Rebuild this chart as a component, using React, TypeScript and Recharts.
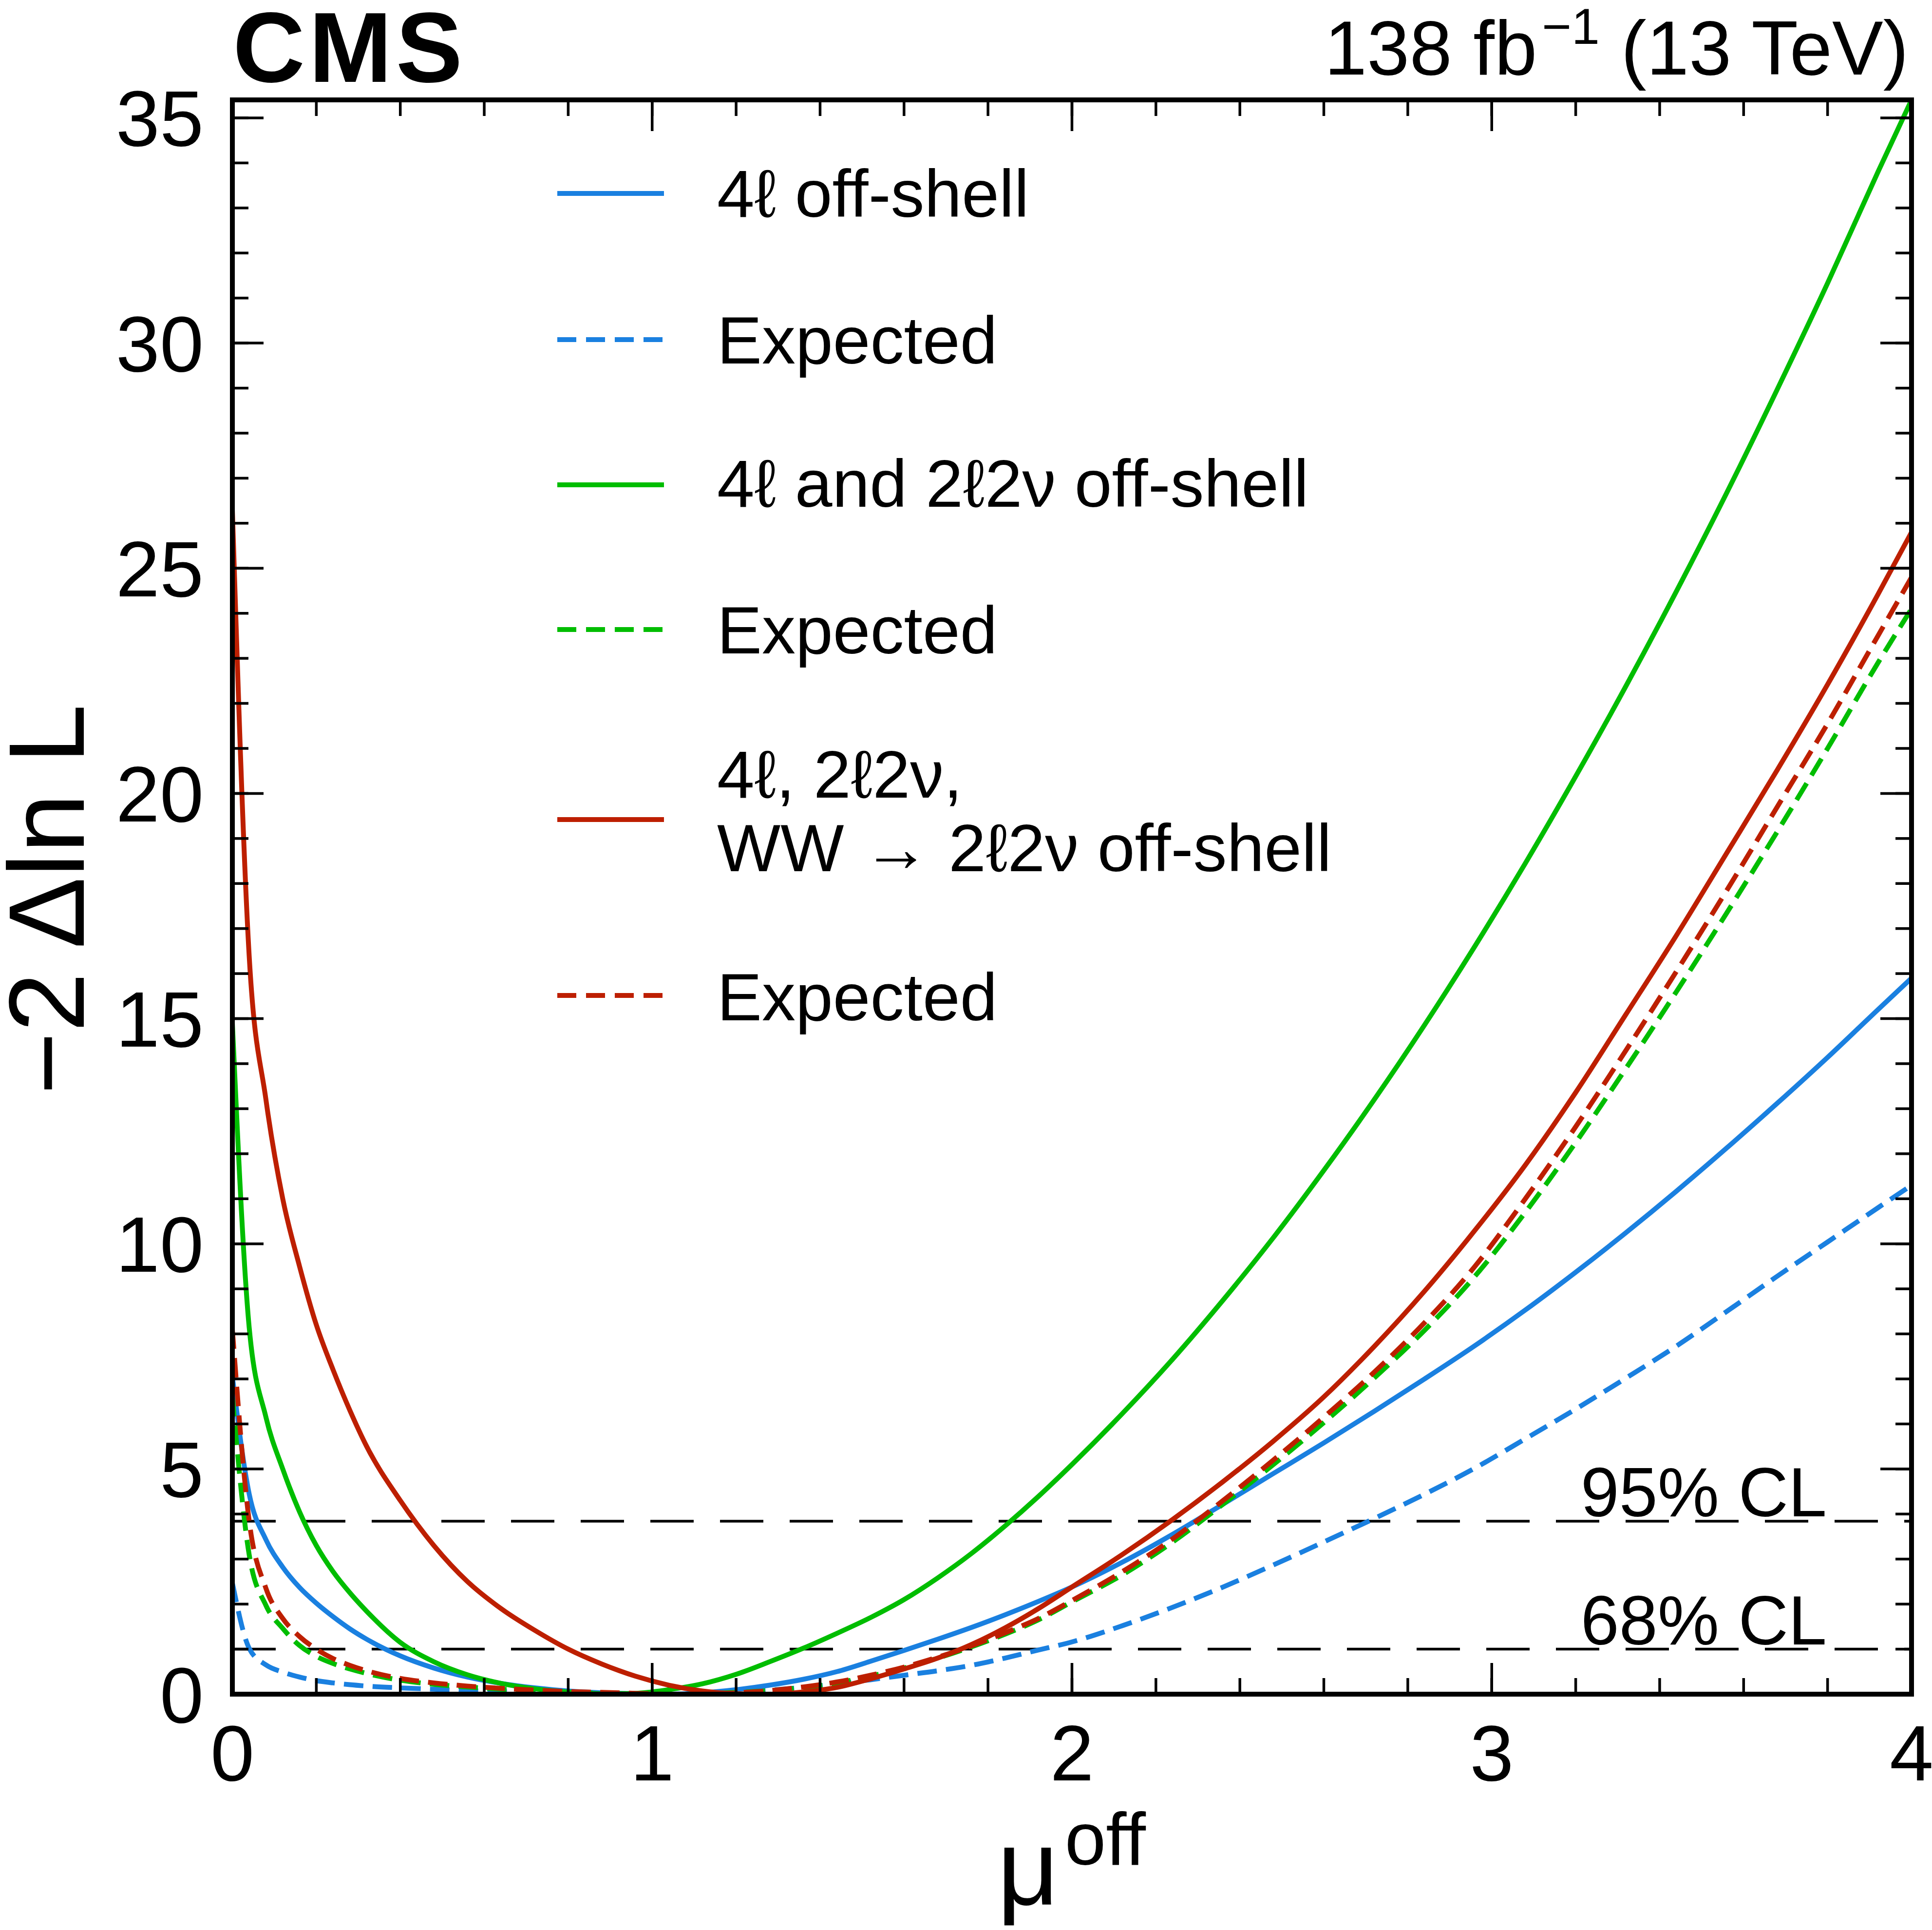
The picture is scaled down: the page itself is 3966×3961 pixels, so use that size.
import React from 'react';
import { LineChart, Line, XAxis, YAxis, ReferenceLine } from 'recharts';

const FONT = '"Liberation Sans", Arimo, Arial, Helvetica, sans-serif';
const W = 3966;
const H = 3961;

const BLUE = '#1a80e0';
const GREEN = '#00bd00';
const RED = '#bd1f00';

// mu^off grid
const mu = [
  0, 0.04, 0.08, 0.12, 0.16, 0.2, 0.24, 0.28, 0.32, 0.4, 0.48, 0.56, 0.64, 0.72, 0.8, 0.88, 0.96,
  1.04, 1.12, 1.2, 1.28, 1.36, 1.44, 1.52, 1.6, 1.68, 1.76, 1.84, 1.92, 2.0,
  2.12, 2.24, 2.36, 2.48, 2.6, 2.72, 2.84, 2.96, 3.08, 3.2, 3.32, 3.44, 3.56, 3.68, 3.8, 3.92, 4.0,
];

// 4l off-shell
const obs4l = [
  7.06, 4.45, 3.43, 2.82, 2.37, 2.02, 1.72, 1.45, 1.22, 0.85, 0.58, 0.38, 0.24, 0.14, 0.07, 0.03, 0.01,
  0.0, 0.03, 0.1, 0.2, 0.33, 0.5, 0.73, 0.97, 1.22, 1.48, 1.76, 2.06, 2.38,
  2.93, 3.55, 4.22, 4.9, 5.58, 6.28, 7.0, 7.74, 8.53, 9.37, 10.25, 11.17, 12.13, 13.12, 14.14, 15.2, 15.9,
];
const exp4l = [
  2.47, 1.02, 0.65, 0.49, 0.38, 0.3, 0.25, 0.21, 0.18, 0.14, 0.11, 0.08, 0.06, 0.04, 0.02, 0.01, 0.0,
  0.0, 0.02, 0.05, 0.09, 0.15, 0.23, 0.32, 0.42, 0.52, 0.64, 0.8, 0.98, 1.16,
  1.52, 1.93, 2.38, 2.87, 3.38, 3.9, 4.44, 5.02, 5.67, 6.33, 7.02, 7.73, 8.5, 9.28, 10.04, 10.8, 11.3,
];

// 4l and 2l2nu off-shell
const obs2ch = [
  14.9, 8.15, 6.15, 5.0, 4.05, 3.3, 2.72, 2.25, 1.84, 1.15, 0.72, 0.43, 0.24, 0.12, 0.05, 0.01, 0.02,
  0.1, 0.23, 0.44, 0.72, 1.02, 1.35, 1.7, 2.1, 2.58, 3.12, 3.73, 4.39, 5.1,
  6.23, 7.44, 8.75, 10.14, 11.63, 13.2, 14.86, 16.61, 18.45, 20.38, 22.39, 24.49, 26.68, 28.97, 31.33, 33.8, 35.4,
];
const exp2ch = [
  6.6, 3.1, 1.97, 1.46, 1.08, 0.84, 0.68, 0.56, 0.46, 0.31, 0.22, 0.16, 0.11, 0.07, 0.04, 0.02, 0.0,
  0.0, 0.01, 0.04, 0.08, 0.15, 0.25, 0.4, 0.58, 0.8, 1.05, 1.33, 1.65, 2.05,
  2.65, 3.38, 4.22, 5.1, 6.03, 7.02, 8.08, 9.28, 10.7, 12.25, 13.9, 15.6, 17.35, 19.15, 21.0, 22.9, 24.1,
];

// 4l, 2l2nu, WW -> 2l2nu off-shell
const obsAll = [
  26.3, 16.4, 13.2, 11.0, 9.5, 8.2, 7.2, 6.3, 5.5, 4.3, 3.3, 2.5, 1.9, 1.42, 1.0, 0.67, 0.4,
  0.2, 0.07, 0.01, 0.0, 0.05, 0.15, 0.34, 0.56, 0.8, 1.1, 1.47, 1.9, 2.38,
  3.1, 3.88, 4.72, 5.62, 6.6, 7.72, 8.95, 10.3, 11.75, 13.36, 15.1, 16.85, 18.68, 20.52, 22.42, 24.42, 25.8,
];
const expAll = [
  8.1, 3.85, 2.35, 1.68, 1.28, 1.0, 0.79, 0.64, 0.52, 0.35, 0.25, 0.18, 0.13, 0.09, 0.06, 0.04, 0.02,
  0.0, 0.0, 0.03, 0.08, 0.16, 0.27, 0.42, 0.6, 0.82, 1.07, 1.36, 1.68, 2.08,
  2.72, 3.45, 4.3, 5.2, 6.15, 7.15, 8.25, 9.5, 11.0, 12.6, 14.3, 16.05, 17.85, 19.7, 21.55, 23.5, 24.8,
];

const seriesKeys = ['obs4l', 'exp4l', 'obs2ch', 'exp2ch', 'obsAll', 'expAll'];
const seriesValues = [obs4l, exp4l, obs2ch, exp2ch, obsAll, expAll];
const seriesColors = [BLUE, BLUE, GREEN, GREEN, RED, RED];
const seriesDashed = [false, true, false, true, false, true];
const legendLabels = [
  ['4ℓ off-shell'],
  ['Expected'],
  ['4ℓ and 2ℓ2ν off-shell'],
  ['Expected'],
  ['4ℓ, 2ℓ2ν,', 'WW → 2ℓ2ν off-shell'],
  ['Expected'],
];

const clLevels = [3.84, 1.0];
const clLabels = ['95% CL', '68% CL'];

const xMajor = [0, 1, 2, 3, 4];
const xMinor = [0, 0.2, 0.4, 0.6, 0.8, 1, 1.2, 1.4, 1.6, 1.8, 2, 2.2, 2.4, 2.6, 2.8, 3, 3.2, 3.4, 3.6, 3.8, 4];
const yMajor = [0, 5, 10, 15, 20, 25, 30, 35];
const yMinor = [
  0, 1, 2, 3, 4, 5, 6, 7, 8, 9, 10, 11, 12, 13, 14, 15, 16, 17, 18, 19, 20, 21, 22, 23, 24, 25, 26, 27,
  28, 29, 30, 31, 32, 33, 34, 35,
];

// legend layout (pixels)
const legendLineX = [1144, 1363];
const legendTextX = 1472;
const legendLineY = [397, 697, 995, 1292, 1682, 2043];
const legendBaselines = [[445], [746], [1040], [1341], [1637, 1788], [2094]];

const X_DOMAIN: [number, number] = [0, 4];
const Y_DOMAIN: [number, number] = [0, 35.4];
const TICK_LINE = { stroke: '#000', strokeWidth: 5.5 };
const FRAME = { stroke: '#000', strokeWidth: 10, strokeLinecap: 'square' as const };
const CURVE_DASH = '40 19';
const CURVE_WIDTH = 10;

// tick lines only, no tick text
const noTick = () => <g />;

function CLLabel({ viewBox, text }: { viewBox?: any; text: string }) {
  if (!viewBox) return null;
  return (
    <text
      x={viewBox.x + viewBox.width - 174}
      y={viewBox.y - 10}
      textAnchor="end"
      fontSize={142}
      fontFamily={FONT}
      fill="#000"
    >
      {text}
    </text>
  );
}

export default function App() {
  const data = mu.map((m, i) => {
    const row: Record<string, number> = { mu: m };
    seriesKeys.forEach((k, j) => {
      row[k] = seriesValues[j][i];
    });
    return row;
  });

  return (
    <div style={{ position: 'absolute', left: 0, top: 0, width: W, height: H, background: '#fff' }}>
      <LineChart width={W} height={H} data={data} margin={{ top: 205, right: 42, bottom: 0, left: 0 }}>
        {/* bottom: labels + frame, then inward ticks */}
        <XAxis
          xAxisId="xb"
          dataKey="mu"
          type="number"
          domain={X_DOMAIN}
          allowDataOverflow
          ticks={xMajor}
          interval={0}
          height={484}
          tickSize={0}
          tickMargin={62}
          tickLine={false}
          axisLine={FRAME}
          tick={{ fontSize: 162, fill: '#000', fontFamily: FONT }}
        />
        <XAxis xAxisId="xbM" dataKey="mu" type="number" domain={X_DOMAIN} allowDataOverflow ticks={xMajor}
          interval={0} mirror height={1} tickSize={64} tick={noTick} axisLine={false} tickLine={TICK_LINE} />
        <XAxis xAxisId="xbm" dataKey="mu" type="number" domain={X_DOMAIN} allowDataOverflow ticks={xMinor}
          interval={0} mirror height={1} tickSize={32} tick={noTick} axisLine={false} tickLine={TICK_LINE} />
        {/* top */}
        <XAxis xAxisId="xtM" dataKey="mu" type="number" orientation="top" domain={X_DOMAIN} allowDataOverflow
          ticks={xMajor} interval={0} mirror height={1} tickSize={64} tick={noTick} axisLine={FRAME} tickLine={TICK_LINE} />
        <XAxis xAxisId="xtm" dataKey="mu" type="number" orientation="top" domain={X_DOMAIN} allowDataOverflow
          ticks={xMinor} interval={0} mirror height={1} tickSize={32} tick={noTick} axisLine={false} tickLine={TICK_LINE} />

        {/* left */}
        <YAxis
          yAxisId="yl"
          type="number"
          domain={Y_DOMAIN}
          allowDataOverflow
          ticks={yMajor}
          interval={0}
          width={477}
          tickSize={0}
          tickMargin={59}
          tickLine={false}
          axisLine={FRAME}
          tick={{ fontSize: 162, fill: '#000', fontFamily: FONT }}
        />
        <YAxis yAxisId="ylM" type="number" domain={Y_DOMAIN} allowDataOverflow ticks={yMajor} interval={0}
          mirror width={1} tickSize={64} tick={noTick} axisLine={false} tickLine={TICK_LINE} />
        <YAxis yAxisId="ylm" type="number" domain={Y_DOMAIN} allowDataOverflow ticks={yMinor} interval={0}
          mirror width={1} tickSize={32} tick={noTick} axisLine={false} tickLine={TICK_LINE} />
        {/* right */}
        <YAxis yAxisId="yrM" type="number" orientation="right" domain={Y_DOMAIN} allowDataOverflow ticks={yMajor}
          interval={0} mirror width={1} tickSize={64} tick={noTick} axisLine={FRAME} tickLine={TICK_LINE} />
        <YAxis yAxisId="yrm" type="number" orientation="right" domain={Y_DOMAIN} allowDataOverflow ticks={yMinor}
          interval={0} mirror width={1} tickSize={32} tick={noTick} axisLine={false} tickLine={TICK_LINE} />

        {clLevels.map((v, i) => (
          <ReferenceLine
            key={v}
            xAxisId="xb"
            yAxisId="yl"
            y={v}
            stroke="#000"
            strokeWidth={5.5}
            strokeDasharray="89 54"
            label={(p: any) => <CLLabel viewBox={p.viewBox} text={clLabels[i]} />}
          />
        ))}

        {seriesKeys.map((k, i) => (
          <Line
            key={k}
            xAxisId="xb"
            yAxisId="yl"
            dataKey={k}
            type="monotone"
            stroke={seriesColors[i]}
            strokeWidth={CURVE_WIDTH}
            strokeDasharray={seriesDashed[i] ? CURVE_DASH : undefined}
            dot={false}
            activeDot={false}
            isAnimationActive={false}
          />
        ))}
      </LineChart>

      <svg
        width={W}
        height={H}
        style={{ position: 'absolute', left: 0, top: 0, pointerEvents: 'none' }}
        fontFamily={FONT}
      >
        <text x={478} y={168} fontSize={205} fontWeight="bold" letterSpacing={8}>
          CMS
        </text>
        <text x={3918} y={153} fontSize={157} textAnchor="end">
          138 fb
          <tspan dx={10} dy={-63} fontSize={104}>
            −1
          </tspan>
          <tspan dy={63}>{'\u00a0(13 TeV)'}</tspan>
        </text>
        <text transform="translate(172,1846) rotate(-90)" fontSize={220} textAnchor="middle">
          −2 Δln L
        </text>
        <text x={2047} y={3909} fontSize={220}>
          μ
          <tspan dx={12} dy={-82} fontSize={152}>
            off
          </tspan>
        </text>

        {legendLabels.map((lines, i) => (
          <g key={i}>
            <line
              x1={legendLineX[0]}
              x2={legendLineX[1]}
              y1={legendLineY[i]}
              y2={legendLineY[i]}
              stroke={seriesColors[i]}
              strokeWidth={CURVE_WIDTH}
              strokeDasharray={seriesDashed[i] ? '39 20' : undefined}
            />
            {lines.map((t, j) => (
              <text key={j} x={legendTextX} y={legendBaselines[i][j]} fontSize={138}>
                {t}
              </text>
            ))}
          </g>
        ))}
      </svg>
    </div>
  );
}
